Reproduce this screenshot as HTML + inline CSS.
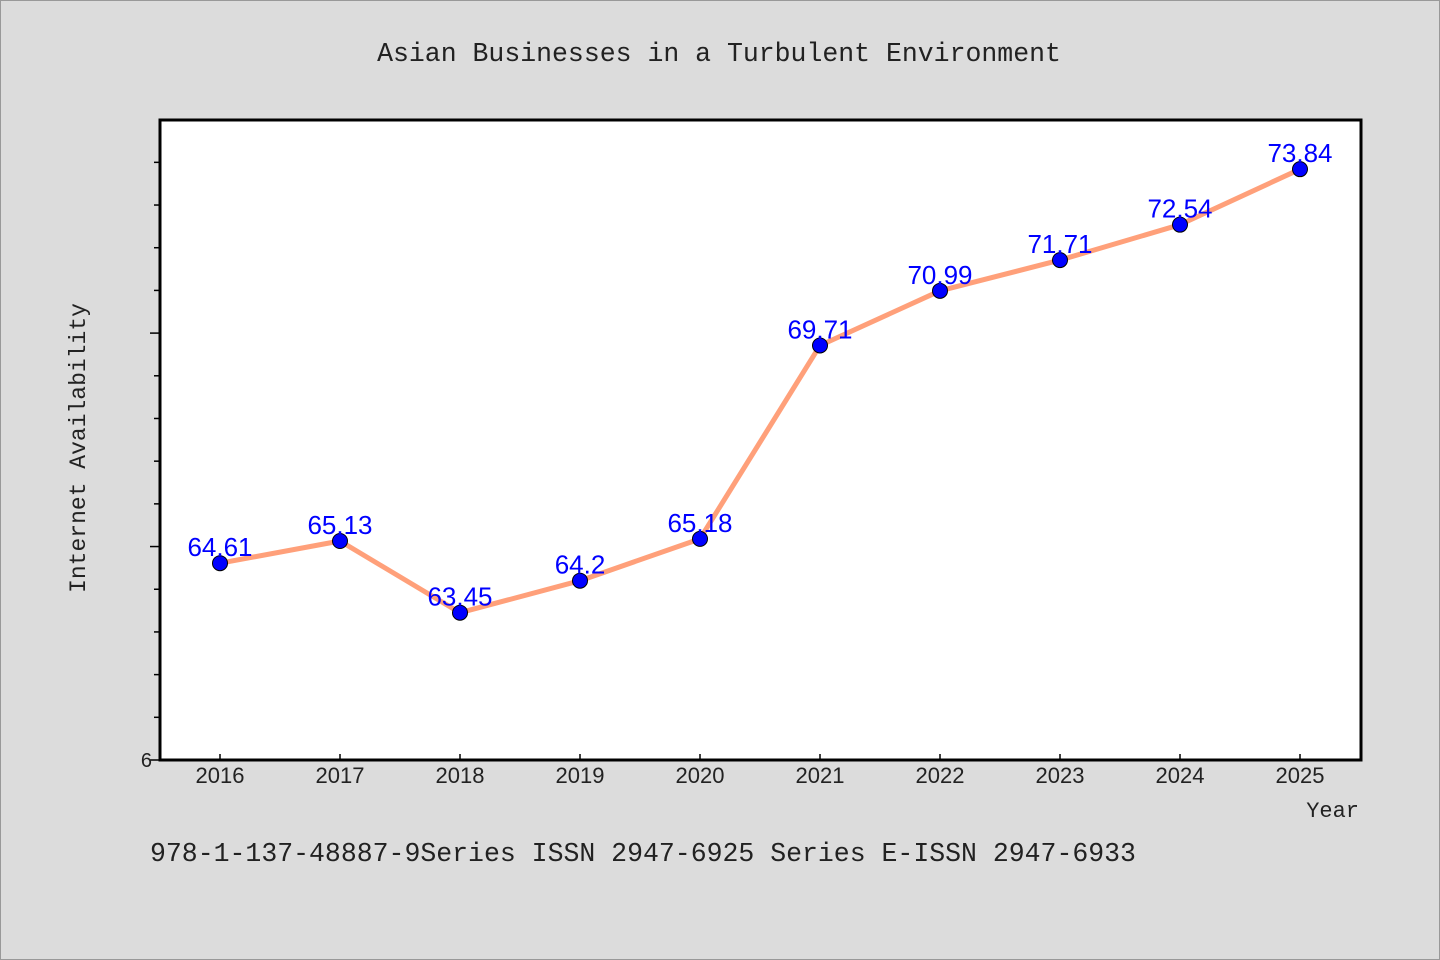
<!DOCTYPE html>
<html><head><meta charset="utf-8"><style>
html,body{margin:0;padding:0;background:#dcdcdc;}
svg{display:block;}
</style></head><body>
<svg width="1440" height="960" xmlns="http://www.w3.org/2000/svg">
<rect x="0.5" y="0.5" width="1439" height="959" fill="#dcdcdc" stroke="#999"/>
<text x="719" y="61" text-anchor="middle" font-family="Liberation Mono, monospace" font-size="26.5" fill="#222">Asian Businesses in a Turbulent Environment</text>
<rect x="160" y="120" width="1201" height="640" fill="#fff" stroke="#000" stroke-width="3"/>
<g id="yticks"></g>
<g id="xticks"></g>
<g id="series"></g>
<text x="85" y="448" transform="rotate(-90 85 448)" text-anchor="middle" font-family="Liberation Mono, monospace" font-size="23" fill="#222">Internet Availability</text>
<text x="1359" y="817" text-anchor="end" font-family="Liberation Mono, monospace" font-size="22" fill="#222">Year</text>
<text x="150" y="861" font-family="Liberation Mono, monospace" font-size="26.5" fill="#222">978-1-137-48887-9Series ISSN 2947-6925 Series E-ISSN 2947-6933</text>
</svg>
<script>
const categories=["2016","2017","2018","2019","2020","2021","2022","2023","2024","2025"];
const values=[64.61,65.13,63.45,64.2,65.18,69.71,70.99,71.71,72.54,73.84];
const valueLabels=["64.61","65.13","63.45","64.2","65.18","69.71","70.99","71.71","72.54","73.84"];
const yTicks=[60,61,62,63,64,65,66,67,68,69,70,71,72,73,74];
const yMin=60,yMax=75;
const NS="http://www.w3.org/2000/svg";
const X=i=>220+i*120;
const Y=v=>760-(v-yMin)*42.69;
function mk(tag,attrs,parent,text){const e=document.createElementNS(NS,tag);for(const k in attrs)e.setAttribute(k,attrs[k]);if(text!==undefined)e.textContent=text;parent.appendChild(e);return e;}
const yg=document.getElementById('yticks');
yTicks.forEach(t=>{
  const y=Y(t);const major=(t%5===0);
  const l=mk('line',{x1:160,x2:major?150:154,y1:y,y2:y,stroke:'#000','stroke-width':1.5},yg);
  
  
});
const yl=mk('text',{x:152,y:767,'text-anchor':'end','font-family':'Liberation Sans, sans-serif','font-size':20,fill:'#222'},yg,String(yMin).charAt(0));


const xg=document.getElementById('xticks');
categories.forEach((c,i)=>{
  const x=X(i);
  const l=mk('line',{x1:x,x2:x,y1:760,y2:754,stroke:'#000','stroke-width':1.5},xg);
  
  
  const t=mk('text',{x:x,y:783,'text-anchor':'middle','font-family':'Liberation Sans, sans-serif','font-size':22,fill:'#222'},xg,c);
  
  
});
const sg=document.getElementById('series');
const pts=values.map((v,i)=>X(i)+','+Y(v)).join(' ');
const pl=mk('polyline',{points:pts,fill:'none',stroke:'#ffa07a','stroke-width':5,'stroke-linejoin':'round'},sg);


values.forEach((v,i)=>{
  const c=mk('circle',{cx:X(i),cy:Y(v),r:7.5,fill:'#0000ff',stroke:'#000','stroke-width':1},sg);
  
  
  const t=mk('text',{x:X(i),y:Y(v)-7,'text-anchor':'middle','font-family':'Liberation Sans, sans-serif','font-size':26,fill:'#0000ff'},sg,valueLabels[i]);
  
  
});
</script>
</body></html>
